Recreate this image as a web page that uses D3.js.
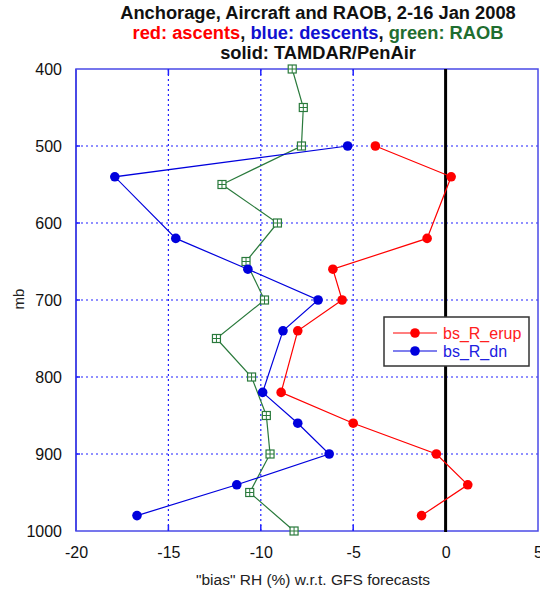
<!DOCTYPE html>
<html>
<head>
<meta charset="utf-8">
<script src="https://cdn.jsdelivr.net/npm/d3@7"></script>
<style>
  body { margin: 0; background: #fff; }
  svg { display: block; font-family: Arial, "Liberation Sans", sans-serif; }
</style>
</head>
<body>
<div id="chart"></div>
<script>
// ===== data (bias RH %, pressure mb) =====
var erupLevels = [500, 540, 620, 660, 700, 740, 820, 860, 900, 940, 980];
var erupBias   = [-3.8, 0.3, -1.0, -6.1, -5.6, -8.0, -8.9, -5.0, -0.5, 1.2, -1.3];

var dnLevels = [500, 540, 620, 660, 700, 740, 820, 860, 900, 940, 980];
var dnBias   = [-5.3, -17.9, -14.6, -10.7, -6.9, -8.8, -9.9, -8.0, -6.3, -11.3, -16.7];

var raobLevels = [400, 450, 500, 550, 600, 650, 700, 750, 800, 850, 900, 950, 1000];
var raobBias   = [-8.3, -7.7, -7.8, -12.1, -9.1, -10.8, -9.8, -12.4, -10.5, -9.7, -9.5, -10.6, -8.2];

var xTicks = [-20, -15, -10, -5, 0, 5];
var yTicks = [400, 500, 600, 700, 800, 900, 1000];

var W = 540, H = 592;
var mLeft = 76, mRight = 538, mTop = 69, mBottom = 531;

var svg = d3.select("#chart")
    .append("svg")
    .attr("width", W)
    .attr("height", H)

var x = d3.scaleLinear().domain([-20, 5]).range([mLeft, mRight])
var y = d3.scaleLinear().domain([400, 1000]).range([mTop, mBottom])

// dotted grid
svg.append("g")
    .selectAll("line")
    .data(xTicks.slice(1, -1).filter(function(d){ return d != 0 }))
    .join("line")
    .attr("x1", function(d){ return x(d) })
    .attr("x2", function(d){ return x(d) })
    .attr("y1", mTop)
    .attr("y2", mBottom)
    .attr("stroke", "#2020ff")
    .attr("stroke-width", 1.2)
    .attr("stroke-dasharray", "2,3")

svg.append("g")
    .selectAll("line")
    .data(yTicks.slice(1, -1))
    .join("line")
    .attr("x1", mLeft)
    .attr("x2", mRight)
    .attr("y1", function(d){ return y(d) })
    .attr("y2", function(d){ return y(d) })
    .attr("stroke", "#2020ff")
    .attr("stroke-width", 1.2)
    .attr("stroke-dasharray", "2,3")

// frame
svg.append("rect")
    .attr("x", mLeft)
    .attr("y", mTop)
    .attr("width", mRight - mLeft)
    .attr("height", mBottom - mTop)
    .attr("fill", "none")
    .attr("stroke", "#4a4ae6")
    .attr("stroke-width", 1.5)
svg.append("line")
    .attr("x1", mLeft).attr("x2", mLeft)
    .attr("y1", mTop).attr("y2", mBottom)
    .attr("stroke", "#4a4ae6")
    .attr("stroke-width", 2)

// small inward ticks, top and bottom, and left
var inner = xTicks.slice(1, -1)
svg.append("g")
    .selectAll("line")
    .data(inner.concat(inner))
    .join("line")
    .attr("x1", function(d){ return x(d) })
    .attr("x2", function(d){ return x(d) })
    .attr("y1", function(d, i){ return i < inner.length ? mBottom - 6 : mTop })
    .attr("y2", function(d, i){ return i < inner.length ? mBottom : mTop + 6 })
    .attr("stroke", "#2020ff")
    .attr("stroke-width", 1.5)
svg.append("g")
    .selectAll("line")
    .data(yTicks.slice(1, -1))
    .join("line")
    .attr("x1", mLeft)
    .attr("x2", mLeft + 4)
    .attr("y1", function(d){ return y(d) })
    .attr("y2", function(d){ return y(d) })
    .attr("stroke", "#2020ff")
    .attr("stroke-width", 1.5)

// zero line
svg.append("line")
    .attr("x1", x(0)).attr("x2", x(0))
    .attr("y1", mTop).attr("y2", mBottom + 1)
    .attr("stroke", "#000")
    .attr("stroke-width", 3)

// axes (labels only)
var fmt = function(d){ return String(d) }
var xAxis = svg.append("g")
    .attr("transform", "translate(0," + mBottom + ")")
    .call(d3.axisBottom(x).tickValues(xTicks).tickFormat(fmt).tickSize(0).tickPadding(16))
xAxis.select(".domain").remove()
xAxis.selectAll("text").attr("font-size", "16px").attr("font-family", "Arial").attr("fill", "#111")

var yAxis = svg.append("g")
    .attr("transform", "translate(" + mLeft + ",0)")
    .call(d3.axisLeft(y).tickValues(yTicks).tickFormat(fmt).tickSize(0).tickPadding(14))
yAxis.select(".domain").remove()
yAxis.selectAll("text").attr("font-size", "16px").attr("font-family", "Arial").attr("fill", "#111")

// axis titles
svg.append("text")
    .text("\"bias\" RH (%) w.r.t. GFS forecasts")
    .attr("x", 313)
    .attr("y", 585)
    .attr("text-anchor", "middle")
    .attr("font-size", "15.5px")
    .attr("fill", "#222")

svg.append("text")
    .text("mb")
    .attr("transform", "translate(24,299) rotate(-90)")
    .attr("text-anchor", "middle")
    .attr("font-size", "15px")
    .attr("fill", "#222")

// title
svg.append("text")
    .attr("x", 318).attr("y", 18.5)
    .attr("text-anchor", "middle")
    .attr("font-size", "18.3px")
    .attr("font-weight", "bold")
    .attr("fill", "#111")
    .text("Anchorage, Aircraft and RAOB, 2-16 Jan 2008")

var t2 = svg.append("text")
    .attr("x", 318).attr("y", 38.5)
    .attr("text-anchor", "middle")
    .attr("font-size", "18.3px")
    .attr("font-weight", "bold")
t2.append("tspan").attr("fill", "#ff0000").text("red: ascents")
t2.append("tspan").attr("fill", "#111").text(", ")
t2.append("tspan").attr("fill", "#1010d0").text("blue: descents")
t2.append("tspan").attr("fill", "#111").text(", ")
t2.append("tspan").attr("fill", "#1f6e30").text("green: RAOB")

svg.append("text")
    .attr("x", 318).attr("y", 59)
    .attr("text-anchor", "middle")
    .attr("font-size", "18.3px")
    .attr("font-weight", "bold")
    .attr("fill", "#111")
    .text("solid: TAMDAR/PenAir")

// series
function toPoints(bias, levels){
    return levels.map(function(l, i){ return {x: bias[i], y: l} })
}
var line = d3.line()
    .x(function(d){ return x(d.x) })
    .y(function(d){ return y(d.y) })

function dotSeries(data, color){
    svg.append("path")
        .datum(data)
        .attr("d", line)
        .attr("fill", "none")
        .attr("stroke", color)
        .attr("stroke-width", 1.2)
    svg.append("g")
        .selectAll("circle")
        .data(data)
        .join("circle")
        .attr("cx", function(d){ return x(d.x) })
        .attr("cy", function(d){ return y(d.y) })
        .attr("r", 4.8)
        .attr("fill", color)
}

// green RAOB with open squares + cross
var raob = toPoints(raobBias, raobLevels)
var green = "#2a7a3c"
svg.append("path")
    .datum(raob)
    .attr("d", line)
    .attr("fill", "none")
    .attr("stroke", green)
    .attr("stroke-width", 1.2)
var sq = svg.append("g")
    .selectAll("g")
    .data(raob)
    .join("g")
    .attr("transform", function(d){ return "translate(" + x(d.x) + "," + y(d.y) + ")" })
sq.append("rect")
    .attr("x", -4).attr("y", -4)
    .attr("width", 8).attr("height", 8)
    .attr("fill", "#fff")
    .attr("stroke", green)
    .attr("stroke-width", 1.2)
sq.append("path")
    .attr("d", "M-4,0H4M0,-4V4")
    .attr("stroke", green)
    .attr("stroke-width", 1)

dotSeries(toPoints(dnBias, dnLevels), "#0000dd")
dotSeries(toPoints(erupBias, erupLevels), "#ff0000")

// legend
var lg = svg.append("g")
lg.append("rect")
    .attr("x", 384).attr("y", 317)
    .attr("width", 145).attr("height", 49)
    .attr("fill", "#fff")
    .attr("stroke", "#333")
    .attr("stroke-width", 1.5)
var legendItems = [
    {name: "bs_R_erup", color: "#ff0000", text: "#ff2020"},
    {name: "bs_R_dn", color: "#0000dd", text: "#2020e0"}
]
legendItems.forEach(function(it, i){
    var ly = 333 + i * 18
    lg.append("line")
        .attr("x1", 393).attr("x2", 437)
        .attr("y1", ly).attr("y2", ly)
        .attr("stroke", it.color)
        .attr("stroke-width", 1.2)
    lg.append("circle")
        .attr("cx", 415).attr("cy", ly).attr("r", 4.8)
        .attr("fill", it.color)
    lg.append("text")
        .text(it.name)
        .attr("x", 443).attr("y", ly + 6)
        .attr("font-size", "16px")
        .attr("fill", it.text)
})
</script>
</body>
</html>
